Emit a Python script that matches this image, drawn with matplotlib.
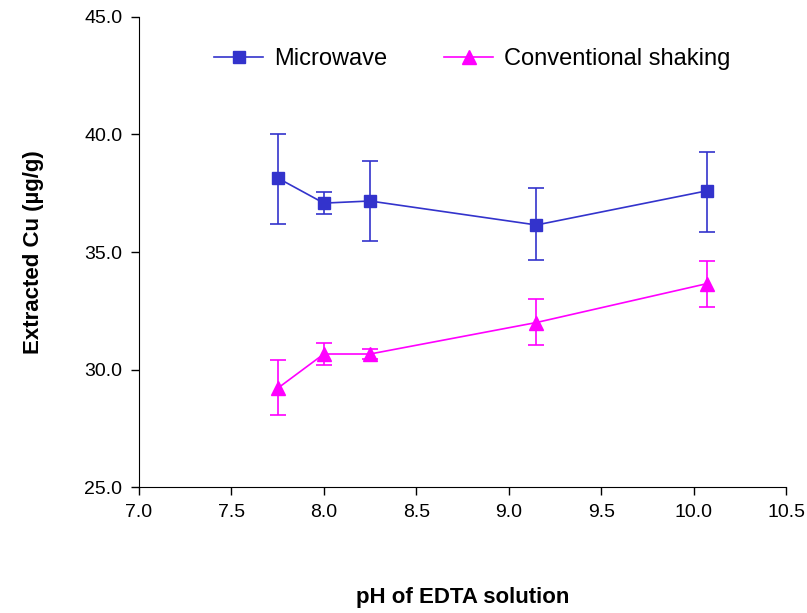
import matplotlib
matplotlib.use("Agg")
import matplotlib.pyplot as plt
from matplotlib.lines import Line2D

plt.rcParams['font.family'] = ['Liberation Sans', 'DejaVu Sans']

ph = [7.75, 8.0, 8.25, 9.15, 10.07]
mw = [38.15, 37.08, 37.17, 36.15, 37.6]
mw_hi = [40.0, 37.55, 38.87, 37.72, 39.26]
mw_lo = [36.19, 36.6, 35.47, 34.66, 35.85]
cs = [29.2, 30.66, 30.66, 32.0, 33.65]
cs_hi = [30.4, 31.13, 30.87, 33.0, 34.62]
cs_lo = [28.06, 30.19, 30.45, 31.04, 32.66]

xticks = [7.0, 7.5, 8.0, 8.5, 9.0, 9.5, 10.0, 10.5]
yticks = [25.0, 30.0, 35.0, 40.0, 45.0]

fig = plt.figure(figsize=(8.07, 6.13), dpi=100)
ax = fig.add_axes([0.1722, 0.2055, 0.8018, 0.7668])

blue = '#3333CC'
mag = '#FF00FF'

ax.errorbar(ph, mw, yerr=[[m - l for m, l in zip(mw, mw_lo)], [h - m for m, h in zip(mw, mw_hi)]],
            color=blue, marker='s', markersize=9, lw=1.2, capsize=6, elinewidth=1.2, capthick=1.2)
ax.errorbar(ph, cs, yerr=[[m - l for m, l in zip(cs, cs_lo)], [h - m for m, h in zip(cs, cs_hi)]],
            color=mag, marker='^', markersize=10, lw=1.2, capsize=6, elinewidth=1.2, capthick=1.2)

ax.set_xlim(7.0, 10.5)
ax.set_ylim(25.0, 45.0)
ax.set_xticks(xticks)
ax.set_yticks(yticks)
ax.set_xticklabels([f'{v:.1f}' for v in xticks], fontsize=14)
ax.set_yticklabels([f'{v:.1f}' for v in yticks], fontsize=14)
ax.spines['top'].set_visible(False)
ax.spines['right'].set_visible(False)
ax.tick_params(direction='out', length=6, width=1, pad=6)

ax.set_xlabel('pH of EDTA solution', fontsize=16, fontweight='bold', labelpad=48)
ax.set_ylabel('Extracted Cu (µg/g)', fontsize=16, fontweight='bold', labelpad=29)

handles = [Line2D([], [], color=blue, marker='s', markersize=9, lw=1.2),
           Line2D([], [], color=mag, marker='^', markersize=10, lw=1.2)]
ax.legend(handles, ['Microwave', 'Conventional shaking'], loc='center',
          bbox_to_anchor=(0.515, 0.91), ncol=2, frameon=False,
          fontsize=17, handlelength=2.1, columnspacing=2.4, handletextpad=0.45)

fig.savefig('out.png', dpi=100)
